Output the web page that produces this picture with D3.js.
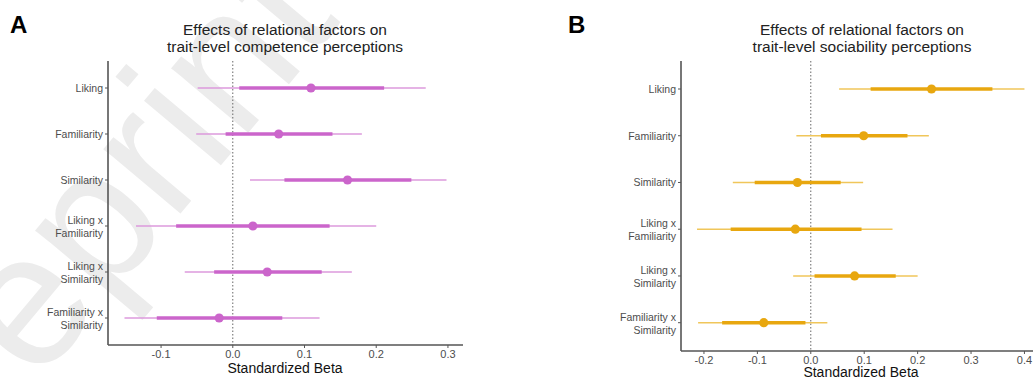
<!DOCTYPE html>
<html>
<head>
<meta charset="utf-8">
<script src="https://cdn.jsdelivr.net/npm/d3@7"></script>
<style>
  body { margin: 0; background: #fff; }
  svg { display: block; font-family: "Liberation Sans", Arial, sans-serif; }
</style>
</head>
<body>
<svg id="chart" width="1033" height="379"></svg>
<script>
// Predictors (top to bottom)
const categories = ['Liking', 'Familiarity', 'Similarity', 'Liking x Familiarity', 'Liking x Similarity', 'Familiarity x Similarity'];

// Panel A: competence perceptions
const compEst   = [0.109, 0.064, 0.160, 0.028, 0.048, -0.019];
const compLo50  = [0.009, -0.010, 0.072, -0.079, -0.026, -0.106];
const compHi50  = [0.211, 0.139, 0.249, 0.135, 0.124, 0.069];
const compLo95  = [-0.049, -0.051, 0.024, -0.135, -0.067, -0.151];
const compHi95  = [0.269, 0.180, 0.298, 0.200, 0.166, 0.121];
const compTicks = [-0.1, 0.0, 0.1, 0.2, 0.3];

// Panel B: sociability perceptions
const socEst   = [0.226, 0.099, -0.025, -0.029, 0.082, -0.088];
const socLo50  = [0.112, 0.019, -0.105, -0.150, 0.007, -0.166];
const socHi50  = [0.340, 0.181, 0.056, 0.095, 0.159, -0.010];
const socLo95  = [0.053, -0.027, -0.146, -0.213, -0.033, -0.211];
const socHi95  = [0.400, 0.221, 0.098, 0.153, 0.200, 0.031];
const socTicks = [-0.2, -0.1, 0.0, 0.1, 0.2, 0.3, 0.4];

const svg = d3.select('#chart');

// faint "Preprint" watermark
svg.append('text')
    .attr('transform', 'translate(-86,531) rotate(-50)')
    .attr('font-size', 190)
    .attr('fill', '#ececec')
    .text('Preprint');

const fmt = t => d3.format('.1f')(t).replace('\u2212', '-');

function drawPanel(opts) {
    const g = svg.append('g');
    const x = d3.scaleLinear().domain(opts.domain).range(opts.xRange);
    const y = d3.scalePoint().domain(categories).range(opts.yRange);

    // panel letter
    g.append('text')
        .attr('x', opts.letterX).attr('y', 33)
        .attr('font-weight', 'bold').attr('font-size', 24)
        .attr('fill', '#000')
        .text(opts.letter);

    // title
    const title = g.append('text')
        .attr('text-anchor', 'middle')
        .attr('font-size', 15.5)
        .attr('fill', '#222');
    opts.title.forEach((line, i) => {
        title.append('tspan')
            .attr('x', opts.titleX)
            .attr('y', 35 + i * 16.5)
            .text(line);
    });

    // zero reference line
    g.append('line')
        .attr('x1', x(0)).attr('x2', x(0))
        .attr('y1', opts.axisTop).attr('y2', opts.axisBottom)
        .attr('stroke', '#666').attr('stroke-width', 1)
        .attr('stroke-dasharray', '1.5,2');

    // axes
    g.append('line')
        .attr('x1', opts.xRange[0]).attr('x2', opts.xRange[0])
        .attr('y1', opts.axisTop).attr('y2', opts.axisBottom)
        .attr('stroke', '#555').attr('stroke-width', 1.6);
    g.append('line')
        .attr('x1', opts.xRange[0]).attr('x2', opts.xRange[1])
        .attr('y1', opts.axisBottom).attr('y2', opts.axisBottom)
        .attr('stroke', '#555').attr('stroke-width', 1.6);

    // x ticks
    opts.ticks.forEach(t => {
        g.append('line')
            .attr('x1', x(t)).attr('x2', x(t))
            .attr('y1', opts.axisBottom).attr('y2', opts.axisBottom + 3)
            .attr('stroke', '#555').attr('stroke-width', 1);
        g.append('text')
            .attr('x', x(t)).attr('y', opts.axisBottom + 13)
            .attr('text-anchor', 'middle')
            .attr('font-size', 11).attr('fill', '#4d4d4d')
            .text(fmt(t));
    });
    g.append('text')
        .attr('x', opts.xTitleX)
        .attr('y', opts.xTitleY)
        .attr('text-anchor', 'middle')
        .attr('font-size', 14).attr('fill', '#111')
        .text('Standardized Beta');

    // y ticks + labels
    categories.forEach(c => {
        const yy = y(c);
        g.append('line')
            .attr('x1', opts.xRange[0] - 3).attr('x2', opts.xRange[0])
            .attr('y1', yy).attr('y2', yy)
            .attr('stroke', '#555').attr('stroke-width', 1);
        const parts = c.includes(' x ') ? [c.split(' x ')[0] + ' x', c.split(' x ')[1]] : [c];
        const lab = g.append('text')
            .attr('text-anchor', 'end')
            .attr('font-size', 10.5).attr('fill', '#4d4d4d');
        parts.forEach((p, i) => {
            lab.append('tspan')
                .attr('x', opts.xRange[0] - 5)
                .attr('y', yy + 4 + (parts.length === 2 ? (i === 0 ? -6 : 7) : 0))
                .text(p);
        });
    });

    // intervals: thin = outer interval, thick = inner interval, dot = estimate
    categories.forEach((c, i) => {
        g.append('line')
            .attr('x1', x(opts.lo95[i])).attr('x2', x(opts.hi95[i]))
            .attr('y1', y(c)).attr('y2', y(c))
            .attr('stroke', opts.light).attr('stroke-width', 1.6);
        g.append('line')
            .attr('x1', x(opts.lo50[i])).attr('x2', x(opts.hi50[i]))
            .attr('y1', y(c)).attr('y2', y(c))
            .attr('stroke', opts.color).attr('stroke-width', 3.6);
        g.append('circle')
            .attr('cx', x(opts.est[i])).attr('cy', y(c))
            .attr('r', 4.6)
            .attr('fill', opts.color);
    });
}

drawPanel({
    letter: 'A', letterX: 10,
    title: ['Effects of relational factors on', 'trait-level competence perceptions'],
    titleX: 285,
    domain: [-0.174, 0.321], xRange: [108, 463],
    yRange: [88, 318], axisTop: 61, axisBottom: 345,
    ticks: compTicks, xTitleX: 285, xTitleY: 373,
    est: compEst, lo50: compLo50, hi50: compHi50, lo95: compLo95, hi95: compHi95,
    color: '#cb65cb', light: '#dc9adc'
});

drawPanel({
    letter: 'B', letterX: 568,
    title: ['Effects of relational factors on', 'trait-level sociability perceptions'],
    titleX: 862,
    domain: [-0.243, 0.416], xRange: [681, 1033],
    yRange: [89, 322.7], axisTop: 61, axisBottom: 351,
    ticks: socTicks, xTitleX: 861, xTitleY: 377,
    est: socEst, lo50: socLo50, hi50: socHi50, lo95: socLo95, hi95: socHi95,
    color: '#e8a70f', light: '#f0c65a'
});
</script>
</body>
</html>
